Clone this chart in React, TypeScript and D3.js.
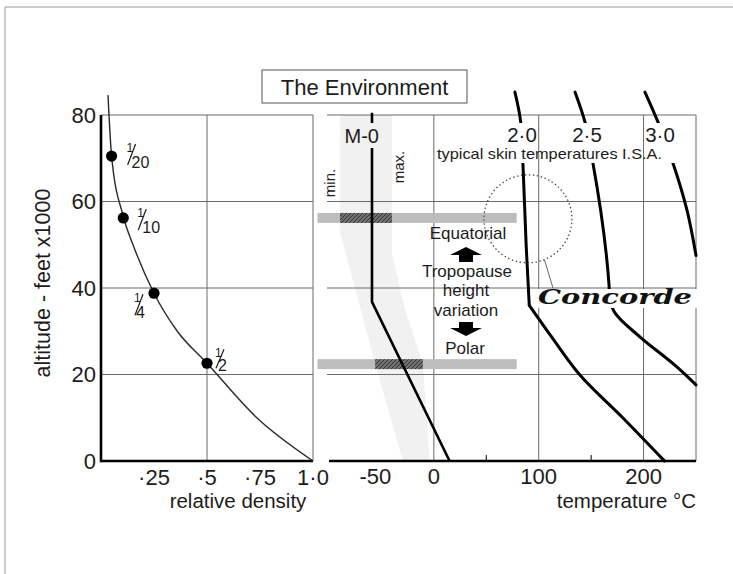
import React from 'react';
import * as d3 from 'd3';

// ---- left panel: relative density against altitude (feet x 1000)
const densityCurve = [
  { d: 0.033, alt: 84.6 },
  { d: 0.05, alt: 70.5 },
  { d: 0.105, alt: 56.6 },
  { d: 0.155, alt: 49.5 },
  { d: 0.25, alt: 38.8 },
  { d: 0.36, alt: 30 },
  { d: 0.5, alt: 22.6 },
  { d: 0.735, alt: 10 },
  { d: 1.0, alt: 0 },
];
const densityMarks = [
  { d: 0.05, alt: 70.5, den: '20' },
  { d: 0.105, alt: 56.2, den: '10' },
  { d: 0.25, alt: 38.8, den: '4' },
  { d: 0.5, alt: 22.6, den: '2' },
];
const altTicks = [0, 20, 40, 60, 80];
const altGrid = [20, 40, 60, 80];
const densityTicks = [0.25, 0.5, 0.75, 1.0];
const densityTickLabels = ['·25', '·5', '·75', '1·0'];
const densityGrid = [0.5, 1.0];

// ---- right panel: temperature (deg C) against altitude
const tempTicks = [-50, 0, 100, 200];
const tempTickLabels = ['-50', '0', '100', '200'];
const tempMinorTicks = [50, 150];
const tempGrid = [0, 100, 200, 250];

// I.S.A. (M 0) temperature
const isaLine: [number, number][] = [[15, 0], [-59, 36.8], [-59, 80.5]];
// min / max envelope around it
const envMin: [number, number][] = [[-29.5, 0], [-56, 22.4], [-89.5, 53], [-89.5, 80]];
const envMax: [number, number][] = [[-4, 0], [-10.5, 22.4], [-28, 35.5], [-40, 48], [-40, 80]];

// tropopause bands: equatorial and polar
const bandAlts = [56.2, 22.4];
const bandSpan = [-111, 79];
const bandDark: [number, number][] = [[-89.5, -40], [-56, -10.5]];

// typical skin temperatures, bottom to top, with the tropopause kink index
const machNames = ['2·0', '2·5', '3·0'];
const mach20: [number, number][] = [
  [220, 0], [180.6, 9.9], [139.3, 19.9], [112.3, 28.7], [91, 36],
  [88, 50], [85, 68.4], [82.8, 78.4], [77.3, 85.3],
];
const mach25: [number, number][] = [
  [250, 17.6], [231.5, 21.8], [196.5, 28.7], [172, 34.5], [168, 37],
  [166.9, 41.2], [151.7, 68.9], [144.1, 78.4], [134.6, 85.3],
];
const mach30: [number, number][] = [
  [250, 47.5], [241.4, 58], [228, 68.9], [213.7, 78.4], [201.3, 85.3],
];
const machKinks = [4, 4, 0];

// Concorde cruise region
const concorde = { t: 89.7, alt: 56 };

const FONT = '"Liberation Sans", Arial, Helvetica, sans-serif';
const INK = '#1c1c1c';
const GRID = '#6a6a6a';

// fraction label offsets (numerator / denominator baselines relative to the dot)
const fracOffsets = [
  { nx: 15, ny: -4, dx: 20, dy: 12 },
  { nx: 14, ny: -1, dx: 19, dy: 15 },
  { nx: -20, ny: 9, dx: -18, dy: 25 },
  { nx: 8, ny: -6, dx: 11, dy: 8 },
];

const App = () => {
  const yAlt = d3.scaleLinear().domain([0, 80]).range([461, 115]);
  const xDen = d3.scaleLinear().domain([0, 1]).range([101, 313]);
  const xT = d3.scaleLinear().domain([-100, 250]).range([329, 696]);

  const denPath = d3
    .line<{ d: number; alt: number }>()
    .x((p) => xDen(p.d))
    .y((p) => yAlt(p.alt))
    .curve(d3.curveMonotoneX)(densityCurve) as string;

  const tLine = d3
    .line<[number, number]>()
    .x((p) => xT(p[0]))
    .y((p) => yAlt(p[1]));
  const tCurve = d3
    .line<[number, number]>()
    .x((p) => xT(p[0]))
    .y((p) => yAlt(p[1]))
    .curve(d3.curveMonotoneY);

  const machPaths = [mach20, mach25, mach30].map((pts, i) => {
    const k = machKinks[i];
    if (k <= 0) return [tCurve(pts) as string];
    return [tCurve(pts.slice(0, k + 1)) as string, tCurve(pts.slice(k)) as string];
  });

  const envPts = [...envMin, ...envMax.slice().reverse()];
  const envPath = (tLine(envPts) as string) + 'Z';

  const bandH = 1.15;
  const cx = xT(concorde.t);
  const cy = yAlt(concorde.alt);
  const cr = 44;
  const leadA = (68 * Math.PI) / 180;

  const leftTop = yAlt(80);
  const base = yAlt(0);

  return (
    <svg
      width={733}
      height={574}
      style={{ position: 'absolute', left: 0, top: 0, background: '#fff' }}
      fontFamily={FONT}
    >
      <defs>
        <pattern id="hatch" width="4" height="4" patternUnits="userSpaceOnUse">
          <rect width="4" height="4" fill="#707070" />
          <path d="M-1,1 l2,-2 M0,4 l4,-4 M3,5 l2,-2" stroke="#333" strokeWidth="1" />
        </pattern>
        <mask id="labelGap" maskUnits="userSpaceOnUse" x="0" y="0" width="733" height="574">
          <rect x="0" y="0" width="733" height="574" fill="#fff" />
          <rect x="362" y="123" width="20" height="25" fill="#000" />
          <rect x="430" y="123" width="270" height="40" fill="#000" />
        </mask>
      </defs>

      {/* page frame */}
      <line x1={5} y1={7} x2={733} y2={7} stroke="#9a9a9a" />
      <line x1={5} y1={7} x2={5} y2={574} stroke="#9a9a9a" />

      {/* title */}
      <rect x={262} y={70} width={205} height={33} fill="#fff" stroke="#555" strokeWidth={1} />
      <text x={364.5} y={95} fontSize={22} textAnchor="middle" fill={INK}>
        The Environment
      </text>

      {/* ===== left panel ===== */}
      <g>
        {altGrid.map((a) => (
          <line key={a} x1={xDen(0)} x2={xDen(1)} y1={yAlt(a)} y2={yAlt(a)} stroke={GRID} strokeWidth={1} />
        ))}
        {densityGrid.map((d) => (
          <line key={d} x1={xDen(d)} x2={xDen(d)} y1={leftTop} y2={base} stroke={GRID} strokeWidth={1} />
        ))}
        <line x1={xDen(0)} x2={xDen(0)} y1={leftTop} y2={base + 1.2} stroke="#000" strokeWidth={2.6} />
        <line x1={xDen(0)} x2={xDen(1)} y1={base} y2={base} stroke="#000" strokeWidth={2.6} />

        {altTicks.map((a) => (
          <text key={a} x={96} y={yAlt(a)} dy="0.36em" fontSize={22} textAnchor="end" fill={INK}>
            {a}
          </text>
        ))}
        {densityTicks.map((d, i) => (
          <text key={d} x={xDen(d)} y={485} fontSize={22} textAnchor="middle" fill={INK}>
            {densityTickLabels[i]}
          </text>
        ))}
        <text x={238} y={508} fontSize={20.5} textAnchor="middle" fill={INK}>
          relative density
        </text>
        <text
          transform={`translate(50, 283) rotate(-90)`}
          fontSize={21.5}
          textAnchor="middle"
          fill={INK}
        >
          altitude - feet x1000
        </text>

        <path d={denPath} fill="none" stroke="#2a2a2a" strokeWidth={1.4} />
        {densityMarks.map((m, i) => {
          const px = xDen(m.d);
          const py = yAlt(m.alt);
          const o = fracOffsets[i];
          const nx = px + o.nx;
          const ny = py + o.ny;
          return (
            <g key={m.den} fill={INK}>
              <circle cx={px} cy={py} r={5.6} fill="#000" />
              <text x={nx} y={ny} fontSize={12}>1</text>
              <line x1={nx + 1} y1={py + o.dy - 3} x2={nx + 9} y2={ny - 8} stroke={INK} strokeWidth={1.2} />
              <text x={px + o.dx} y={py + o.dy} fontSize={16}>{m.den}</text>
            </g>
          );
        })}
      </g>

      {/* ===== right panel ===== */}
      <g>
        <path d={envPath} fill="#f1f1f1" />

        {altGrid.map((a) => (
          <line key={a} x1={xT(-100) - 2} x2={xT(250)} y1={yAlt(a)} y2={yAlt(a)} stroke={GRID} strokeWidth={1} />
        ))}
        {tempGrid.map((t) => (
          <line key={t} x1={xT(t)} x2={xT(t)} y1={leftTop} y2={base} stroke={GRID} strokeWidth={1} />
        ))}

        {bandAlts.map((a, i) => (
          <g key={a}>
            <rect
              x={xT(bandSpan[0])}
              width={xT(bandSpan[1]) - xT(bandSpan[0])}
              y={yAlt(a + bandH)}
              height={yAlt(a - bandH) - yAlt(a + bandH)}
              fill="#bdbdbd"
            />
            <rect
              x={xT(bandDark[i][0])}
              width={xT(bandDark[i][1]) - xT(bandDark[i][0])}
              y={yAlt(a + bandH)}
              height={yAlt(a - bandH) - yAlt(a + bandH)}
              fill="url(#hatch)"
            />
          </g>
        ))}

        <line x1={xT(-100)} x2={xT(250)} y1={base} y2={base} stroke="#000" strokeWidth={2.6} />
        {tempMinorTicks.map((t) => (
          <line key={t} x1={xT(t)} x2={xT(t)} y1={base} y2={base - 6} stroke="#000" strokeWidth={1} />
        ))}
        {tempTicks.map((t, i) => (
          <text key={t} x={xT(t)} dx={t < 0 ? -6 : 0} y={484} fontSize={22} textAnchor="middle" fill={INK}>
            {tempTickLabels[i]}
          </text>
        ))}
        <text x={696} y={508} fontSize={20.5} textAnchor="end" fill={INK}>
          temperature °C
        </text>

        <g mask="url(#labelGap)" fill="none" stroke="#000">
          <path d={tLine(isaLine) as string} strokeWidth={2.6} />
          {machPaths.map((ps, i) =>
            ps.map((d, j) => (
              <path key={`${i}-${j}`} d={d} strokeWidth={3} strokeLinecap="round" />
            ))
          )}
        </g>

        {/* Concorde cruise circle */}
        <circle cx={cx} cy={cy} r={cr} fill="none" stroke="#444" strokeWidth={1.3} strokeDasharray="1.4 2.6" />
        <line
          x1={cx + cr * Math.cos(leadA)}
          y1={cy + cr * Math.sin(leadA)}
          x2={xT(113.6)}
          y2={yAlt(40)}
          stroke="#666"
          strokeWidth={1}
        />
        <rect x={536} y={yAlt(40) + 1} width={161} height={19} fill="#fff" />
        <text
          x={538}
          y={304}
          fontSize={21}
          fontFamily='"DejaVu Serif", "Liberation Serif", serif'
          fontWeight="bold"
          fontStyle="italic"
          textLength={154}
          lengthAdjust="spacingAndGlyphs"
          fill="#111"
        >
          Concorde
        </text>

        {/* line labels */}
        <text x={379} y={143} fontSize={20} textAnchor="end" fill={INK}>
          M-0
        </text>
        {machNames.map((n, i) => (
          <text key={n} x={[522, 587, 660][i]} y={142} fontSize={20.5} textAnchor="middle" fill={INK}>
            {n}
          </text>
        ))}
        <text x={437} y={159} fontSize={15} textLength={225} lengthAdjust="spacingAndGlyphs" fill={INK}>
          typical skin temperatures I.S.A.
        </text>
        <text transform="translate(335, 183) rotate(-90)" fontSize={15} textAnchor="middle" fill={INK}>
          min.
        </text>
        <text transform="translate(404, 167) rotate(-90)" fontSize={15} textAnchor="middle" fill={INK}>
          max.
        </text>

        {/* tropopause note */}
        <g fontSize={17} textAnchor="middle" fill={INK}>
          <text x={468} y={239}>Equatorial</text>
          <text x={467} y={277}>Tropopause</text>
          <text x={466} y={296}>height</text>
          <text x={466} y={316}>variation</text>
          <text x={465} y={354}>Polar</text>
        </g>
        <path d="M466,247 L482,255 L473,255 L473,262 L459,262 L459,255 L450,255 Z" fill="#000" />
        <path d="M459,322 L473,322 L473,328 L482,328 L466,336 L450,328 L459,328 Z" fill="#000" />
      </g>
    </svg>
  );
};

export default App;
